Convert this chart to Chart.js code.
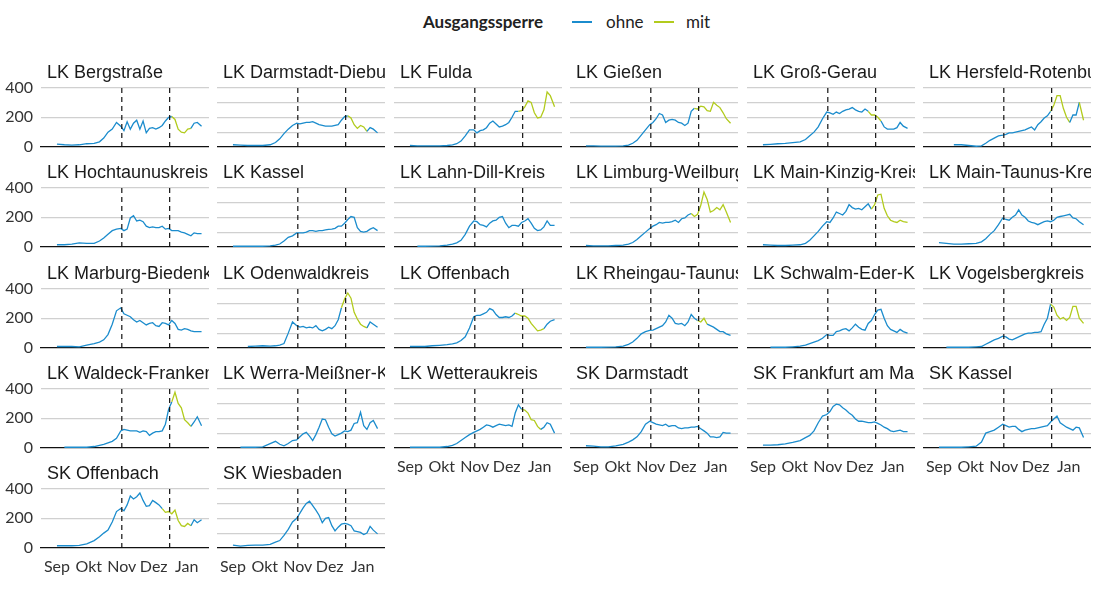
<!DOCTYPE html>
<html lang="de">
<head>
<meta charset="utf-8">
<title>Ausgangssperre Hessen</title>
<script src="https://cdn.jsdelivr.net/npm/chart.js@4.4.1/dist/chart.umd.min.js"></script>
<style>
  html, body { margin: 0; padding: 0; background: #fff; }
  #wrap { position: relative; width: 1095px; height: 591px; overflow: hidden; }
  #wrap canvas { position: absolute; }
  .lg { position: absolute; top: 12px; font: 17px Lato, sans-serif; color: #222; line-height: 20px; white-space: nowrap; }
  .sw { position: absolute; top: 21px; height: 1.5px; }
</style>
</head>
<body>
<div id="wrap">
  <div class="lg" style="left:423px;font-weight:bold;">Ausgangssperre</div>
  <div class="sw" style="left:572px;width:20px;background:#1b8ccd;"></div>
  <div class="lg" style="left:606px;">ohne</div>
  <div class="sw" style="left:654px;width:20px;background:#b2cb1d;"></div>
  <div class="lg" style="left:686px;">mit</div>
</div>
<script>
// ── Data ─────────────────────────────────────────────────
// days since 1 Sep 2020
const DAYS = [0, 7, 14, 21, 28, 35, 40, 44, 48, 52, 56, 60, 63, 66, 69, 72, 75, 78, 81,
  84, 87, 90, 93, 96, 99, 102, 105, 108, 111, 114, 117, 120, 123, 126, 129, 132, 136];
const MONTHS = ['Sep', 'Okt', 'Nov', 'Dez', 'Jan'];
const MONTH_DAYS = [0, 30, 61, 91, 122];
const Y_TICKS = [0, 100, 200, 300, 400];
const LOCKDOWN_DAYS = [61, 106];

const lkBergstrasse   = [20,15,12,15,22,25, 35,60,100,120,165,140, 110,170,120,160,180,120, 175,95,125,130,120,130, 145,175,200,205,185,120, 100,95,120,125,160,165, 140];
const lkDarmstadtDie  = [15,12,10,10,10,15, 30,55,90,120,145,160, 155,160,165,165,170,160, 150,145,140,140,140,145, 150,180,205,210,195,150, 125,145,135,105,130,120, 95];
const lkFulda         = [10,8,8,8,8,10, 15,22,40,75,115,115, 95,110,115,130,160,175, 155,135,140,150,165,200, 240,240,245,270,310,300, 230,195,200,250,370,345, 270];
const lkGiessen       = [8,8,6,6,6,8, 12,25,45,80,115,150, 165,190,225,215,165,180, 185,180,165,160,145,160, 240,260,255,275,270,245, 240,300,280,265,230,190, 160];
const lkGrossGerau    = [15,18,22,25,30,35, 50,75,100,135,190,235, 230,220,235,225,240,250, 255,265,250,240,235,255, 240,215,215,200,175,135, 120,120,120,130,165,140, 125];
const lkHersfeld      = [null,null,15,15,10,5, 8,25,45,60,75,80, 85,95,95,100,105,110, 115,125,135,115,150,170, 195,210,240,280,345,345, 260,200,165,215,215,300, 180];
const lkHochtaunus    = [15,15,20,28,25,25, 40,60,85,110,120,125, 110,120,195,210,175,180, 170,140,130,135,130,130, 140,120,125,110,110,110, 100,95,85,75,95,90, 90];
const lkKassel        = [5,5,5,5,5,8, 12,20,40,65,75,95, 95,95,100,110,110,105, 110,110,115,118,120,125, 140,140,160,185,205,200, 130,105,100,105,120,130, 110];
const lkLahnDill      = [null,5,5,6,8,12, 20,28,45,85,140,175, 170,150,145,135,160,175, 180,200,205,160,130,145, 145,140,165,175,190,160, 125,110,115,135,175,145, 145];
const lkLimburg       = [10,8,8,8,10,12, 20,30,50,75,100,125, 140,150,165,160,165,165, 170,180,165,190,195,215, 225,205,220,280,370,320, 235,245,265,250,285,235, 165];
const lkMainKinzig    = [15,12,10,10,12,15, 25,45,75,105,140,170, 165,195,235,225,215,240, 285,265,255,260,250,270, 290,255,285,350,355,260, 210,180,170,165,180,170, 165];
const lkMainTaunus    = [30,25,20,20,22,25, 35,55,85,110,150,195, 185,180,200,215,250,215, 200,175,165,160,150,160, 170,175,170,180,200,205, 210,215,220,195,190,170, 150];
const lkMarburg       = [10,10,10,8,20,30, 40,55,90,160,250,270, 230,220,210,190,175,185, 170,155,165,170,150,145, 170,165,155,185,165,125, 120,130,125,115,110,110, 110];
const lkOdenwald      = [null,null,10,12,15,12, 15,20,30,100,175,150, 140,145,135,140,135,150, 125,115,125,140,130,150, 190,270,330,370,335,240, 195,160,145,135,175,160, 140];
const lkOffenbach     = [10,10,10,15,18,22, 28,35,50,75,135,210, 220,220,230,240,265,255, 225,205,205,210,205,215, 235,225,215,215,200,165, 140,115,120,130,160,180, 190];
const lkRheingau      = [5,5,5,6,8,12, 25,40,65,95,110,118, 120,130,140,150,175,220, 200,165,160,165,150,175, 225,200,185,175,200,160, 150,140,125,110,110,95, 85];
const lkSchwalmEder   = [null,5,5,5,8,12, 20,30,40,50,65,90, 85,85,110,115,125,130, 115,135,160,140,125,120, 165,185,225,255,260,200, 150,125,115,105,125,110, 100];
const lkVogelsberg    = [null,5,5,5,5,8, 10,25,40,55,65,80, 75,60,55,65,75,85, 95,100,100,105,105,110, 160,200,295,275,220,195, 205,185,205,280,280,200, 165];
const lkWaldeck       = [null,5,5,5,5,10, 18,25,35,45,65,115, 125,120,115,115,115,105, 115,110,85,100,110,110, 115,160,260,310,375,300, 270,190,170,145,175,210, 150];
const lkWerraMeissner = [null,5,5,5,8,30, 45,25,15,30,50,55, 75,95,105,80,50,90, 140,195,190,140,95,80, 90,100,115,110,120,165, 170,240,150,125,170,185, 130];
const lkWetterau      = [5,5,5,5,5,10, 18,30,50,70,90,105, 115,125,140,155,150,140, 150,160,155,150,155,145, 235,290,260,255,235,190, 185,145,125,140,170,160, 100];
const skDarmstadt     = [15,12,8,8,15,25, 40,55,75,110,160,180, 170,160,155,150,160,145, 150,150,135,130,135,135, 140,140,145,130,115,100, 75,75,70,75,105,100, 100];
const skFrankfurt     = [20,20,22,28,38,50, 70,85,115,170,215,225, 245,280,295,290,270,255, 235,220,195,180,180,175, 170,170,175,165,155,140, 130,115,110,115,120,110, 110];
const skKassel        = [5,5,5,5,8,12, 40,100,110,120,140,160, 150,140,145,145,125,110, 120,125,130,130,135,140, 145,150,175,195,215,170, 155,140,130,120,140,135, 70];
const skOffenbach     = [15,15,15,18,28,50, 75,100,120,175,245,265, 250,290,350,330,345,370, 320,280,285,320,305,290, 265,240,245,230,255,185, 150,145,165,150,190,170, 190];
const skWiesbaden     = [20,12,18,20,20,25, 40,50,85,125,175,200, 235,270,300,315,285,255, 220,170,200,205,150,115, 140,160,165,160,150,115, 110,105,90,100,145,120, 95];

const NAMES = [
  'LK Bergstraße', 'LK Darmstadt-Dieburg', 'LK Fulda', 'LK Gießen', 'LK Groß-Gerau', 'LK Hersfeld-Rotenburg',
  'LK Hochtaunuskreis', 'LK Kassel', 'LK Lahn-Dill-Kreis', 'LK Limburg-Weilburg', 'LK Main-Kinzig-Kreis', 'LK Main-Taunus-Kreis',
  'LK Marburg-Biedenkopf', 'LK Odenwaldkreis', 'LK Offenbach', 'LK Rheingau-Taunus-Kreis', 'LK Schwalm-Eder-Kreis', 'LK Vogelsbergkreis',
  'LK Waldeck-Frankenberg', 'LK Werra-Meißner-Kreis', 'LK Wetteraukreis', 'SK Darmstadt', 'SK Frankfurt am Main', 'SK Kassel',
  'SK Offenbach', 'SK Wiesbaden'
];
const SERIES = [
  lkBergstrasse, lkDarmstadtDie, lkFulda, lkGiessen, lkGrossGerau, lkHersfeld,
  lkHochtaunus, lkKassel, lkLahnDill, lkLimburg, lkMainKinzig, lkMainTaunus,
  lkMarburg, lkOdenwald, lkOffenbach, lkRheingau, lkSchwalmEder, lkVogelsberg,
  lkWaldeck, lkWerraMeissner, lkWetterau, skDarmstadt, skFrankfurt, skKassel,
  skOffenbach, skWiesbaden
];
// periods "mit Ausgangssperre" (day ranges)
const CURFEW = [
  [[108, 126]], [[108, 126]], [[102, 136]], [[102, 136]], [[99, 111]], [[105, 123], [132, 136]],
  [], [], [], [[99, 136]], [[102, 136]], [],
  [], [[102, 126]], [[99, 126]], [[105, 114]], [], [[105, 136]],
  [[108, 126]], [], [[105, 123]], [], [], [],
  [[99, 126]], []
];

// ── Layout / style ───────────────────────────────────────
const BLUE  = '#1b8ccd';
const GREEN = '#b2cb1d';
const COL_LEFT = [41, 217, 394, 570, 747, 923];
const PANEL_W  = 168;
const ROW_TOP  = [55, 155, 256, 356, 456];
const TOP_PAD  = 32.5;
const PLOT_H   = 59.5;
const AXIS_H   = 30;
const COLS = 6;

const panelTitle = {
  id: 'panelTitle',
  afterDraw(chart, args, opts) {
    const { ctx, chartArea: a } = chart;
    ctx.save();
    ctx.beginPath();
    ctx.rect(a.left, 0, a.right - a.left, a.top);
    ctx.clip();
    ctx.fillStyle = '#1a1a1a';
    ctx.font = '18px "Liberation Sans", Arial, sans-serif';
    ctx.textBaseline = 'alphabetic';
    ctx.textAlign = 'left';
    ctx.fillText(opts.text, a.left + 6, a.top - 9.5);
    ctx.restore();
  }
};

const wrap = document.getElementById('wrap');

NAMES.forEach((name, i) => {
  const col = i % COLS;
  const row = Math.floor(i / COLS);
  const first = col === 0;
  const bottom = i + COLS >= NAMES.length;

  const cv = document.createElement('canvas');
  const w = first ? COL_LEFT[0] + PANEL_W : PANEL_W;
  const h = TOP_PAD + PLOT_H + AXIS_H;
  cv.width = w;
  cv.height = h;
  cv.style.left = (first ? 0 : COL_LEFT[col]) + 'px';
  cv.style.top = ROW_TOP[row] + 'px';
  wrap.appendChild(cv);

  const periods = CURFEW[i];
  const mit = (a, b) => periods.some(([s, e]) => a >= s && b <= e);
  const vline = d => ({
    data: [{ x: d, y: 0 }, { x: d, y: 400 }],
    borderColor: '#111',
    borderWidth: 1.2,
    borderDash: [5, 4],
    pointRadius: 0
  });

  new Chart(cv, {
    type: 'line',
    data: {
      datasets: [
        ...LOCKDOWN_DAYS.map(vline),
        {
          data: DAYS.map((d, k) => ({ x: d, y: SERIES[i][k] })),
          borderColor: BLUE,
          borderWidth: 1.3,
          pointRadius: 0,
          tension: 0,
          spanGaps: false,
          segment: {
            borderColor: c => mit(c.p0.parsed.x, c.p1.parsed.x) ? GREEN : BLUE
          }
        }
      ]
    },
    options: {
      responsive: false,
      animation: false,
      events: [],
      layout: { padding: { top: TOP_PAD, left: 0, right: 0, bottom: 0 } },
      plugins: {
        legend: { display: false },
        tooltip: { enabled: false },
        panelTitle: { text: name }
      },
      scales: {
        x: {
          type: 'linear',
          min: -15,
          max: 143,
          afterBuildTicks: s => { s.ticks = MONTH_DAYS.map(v => ({ value: v })); },
          afterFit: s => {
            s.height = AXIS_H;
            s.paddingLeft = 0;
            s.paddingRight = 0;
          },
          grid: { display: false, drawTicks: false },
          border: { display: true, color: '#111', width: 1.3 },
          ticks: {
            display: bottom,
            autoSkip: false,
            maxRotation: 0,
            padding: 9,
            color: '#333',
            font: { family: 'Lato', size: 16 },
            callback: v => MONTHS[MONTH_DAYS.indexOf(v)]
          }
        },
        y: {
          min: 0,
          max: 400,
          afterBuildTicks: s => { s.ticks = Y_TICKS.map(v => ({ value: v })); },
          afterFit: s => {
            s.width = first ? COL_LEFT[0] : 0;
            s.paddingTop = 0;
            s.paddingBottom = 0;
          },
          grid: {
            drawTicks: false,
            lineWidth: 1.2,
            color: c => c.tick && c.tick.value === 0 ? 'rgba(0,0,0,0)' : '#d0d0d0'
          },
          border: { display: false },
          ticks: {
            display: first,
            padding: 8,
            color: '#333',
            font: { family: 'Lato', size: 16 }
          }
        }
      }
    },
    plugins: [panelTitle]
  });
});
</script>
</body>
</html>
